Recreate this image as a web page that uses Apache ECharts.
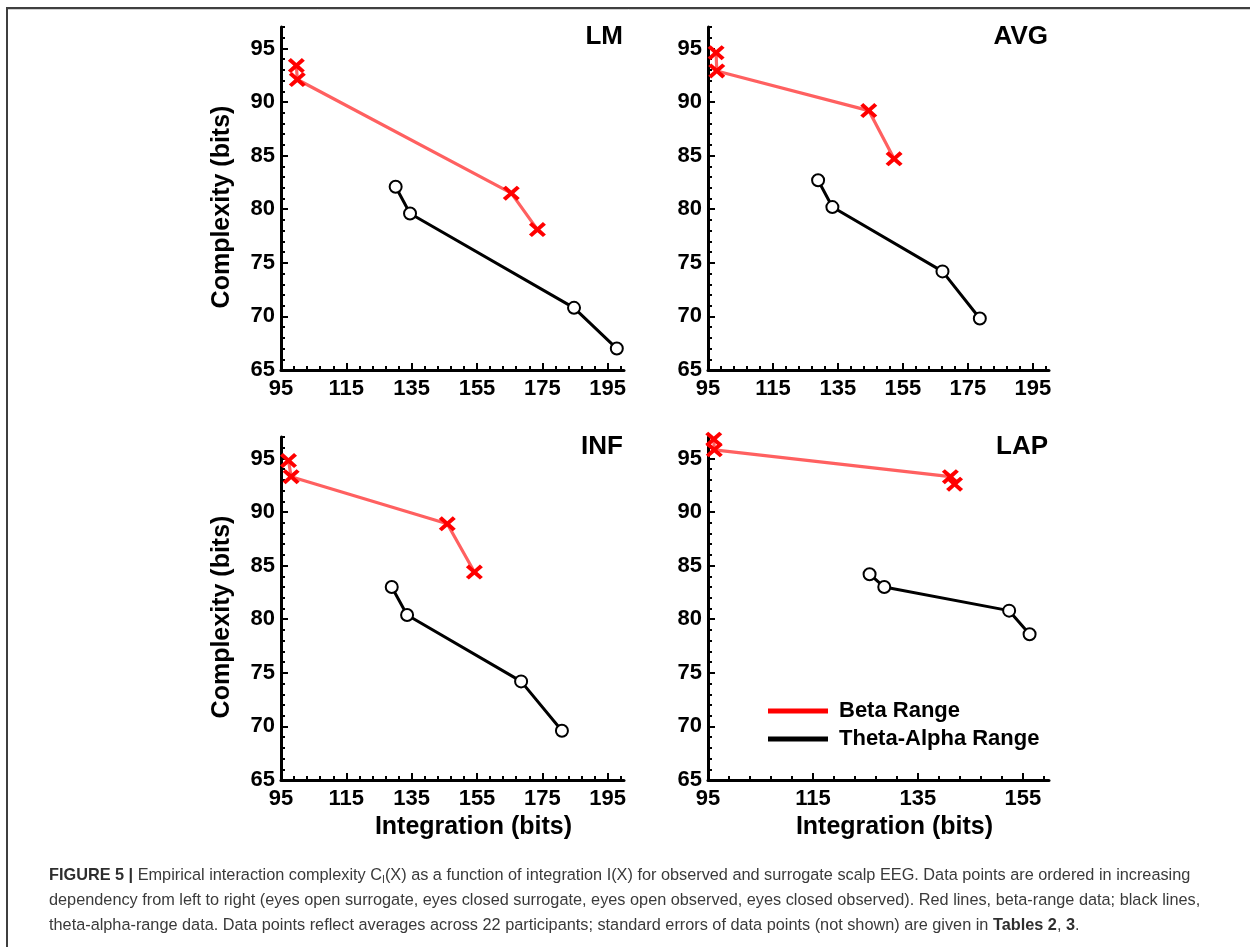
<!DOCTYPE html>
<html>
<head>
<meta charset="utf-8">
<script src="https://cdn.jsdelivr.net/npm/echarts@6/dist/echarts.min.js"></script>
<style>
  html, body { margin: 0; padding: 0; background: #fff; }
  #chart { width: 1250px; height: 947px; }
</style>
</head>
<body>
<div id="chart"></div>
<script>
// ---- Data ----
const panelNames = ['LM', 'AVG', 'INF', 'LAP'];

const lmBetaX = [99.7, 100.0, 165.5, 173.5];
const lmBetaY = [93.4, 92.1, 81.5, 78.1];
const lmThetaX = [130.1, 134.5, 184.7, 197.8];
const lmThetaY = [82.1, 79.6, 70.8, 67.0];

const avgBetaX = [97.5, 97.7, 144.5, 152.3];
const avgBetaY = [94.6, 92.9, 89.2, 84.7];
const avgThetaX = [128.9, 133.3, 167.2, 178.7];
const avgThetaY = [82.7, 80.2, 74.2, 69.8];

const infBetaX = [97.3, 98.1, 145.9, 154.2];
const infBetaY = [94.8, 93.3, 88.9, 84.4];
const infThetaX = [128.9, 133.6, 168.5, 181.0];
const infThetaY = [83.0, 80.4, 74.2, 69.6];

const lapBetaX = [96.1, 96.2, 141.2, 142.0];
const lapBetaY = [96.8, 95.8, 93.3, 92.6];
const lapThetaX = [125.8, 128.6, 152.4, 156.3];
const lapThetaY = [84.2, 83.0, 80.8, 78.6];

const yTicks = [65, 70, 75, 80, 85, 90, 95];
const xTicksWide = [95, 115, 135, 155, 175, 195];
const xTicksLap = [95, 115, 135, 155];

const seriesNames = ['Beta Range', 'Theta-Alpha Range'];
const yAxisTitle = 'Complexity (bits)';
const xAxisTitle = 'Integration (bits)';

// ---- helpers ----
function pairs(xs, ys) { return xs.map((x, i) => [x, ys[i]]); }
function minorsBetween(min, max, step, majors) {
  const out = [];
  for (let v = min; v <= max + 1e-9; v += step) {
    const r = Math.round(v * 100) / 100;
    if (majors.indexOf(r) < 0) out.push(r);
  }
  return out;
}

const FONT = 'Liberation Sans';
const X_SYMBOL = 'path://M0,3.5 L3.5,0 L10,6.5 L16.5,0 L20,3.5 L13.5,10 L20,16.5 L16.5,20 L10,13.5 L3.5,20 L0,16.5 L6.5,10 Z';

const panels = [
  { name: 'LM',  left: 281, top: 27,  width: 343, xMax: 200, xMajors: xTicksWide,
    beta: pairs(lmBetaX, lmBetaY), theta: pairs(lmThetaX, lmThetaY), yTitle: true, xTitle: false },
  { name: 'AVG', left: 708, top: 27,  width: 341, xMax: 200, xMajors: xTicksWide,
    beta: pairs(avgBetaX, avgBetaY), theta: pairs(avgThetaX, avgThetaY), yTitle: false, xTitle: false },
  { name: 'INF', left: 281, top: 437, width: 343, xMax: 200, xMajors: xTicksWide,
    beta: pairs(infBetaX, infBetaY), theta: pairs(infThetaX, infThetaY), yTitle: true, xTitle: true, xShift: 42 },
  { name: 'LAP', left: 708, top: 437, width: 341, xMax: 160, xMajors: xTicksLap,
    beta: pairs(lapBetaX, lapBetaY), theta: pairs(lapThetaX, lapThetaY), yTitle: false, xTitle: true, xShift: 32 }
];

const grids = [], xAxes = [], yAxes = [], series = [], graphics = [];
const tickLabelStyle = { color: '#000', fontFamily: FONT, fontWeight: 'bold', fontSize: 22 };
const nameStyle = { color: '#000', fontFamily: FONT, fontWeight: 'bold', fontSize: 25 };

panels.forEach((p, i) => {
  grids.push({ left: p.left, top: p.top, width: p.width, height: 343, outerBoundsMode: 'none', containLabel: false });
  const xMinors = minorsBetween(95, p.xMax, 4, p.xMajors);
  const yMinors = minorsBetween(65, 97, 1, yTicks);

  xAxes.push({
    gridIndex: i, type: 'value', position: 'bottom', min: 95, max: p.xMax,
    axisLine: { show: true, onZero: false, lineStyle: { color: '#000', width: 3 } },
    splitLine: { show: false },
    axisTick: { show: true, inside: true, length: 7, lineStyle: { color: '#000', width: 2 }, customValues: p.xMajors },
    axisLabel: Object.assign({ margin: 8, customValues: p.xMajors }, tickLabelStyle),
    name: p.xTitle ? xAxisTitle : '', nameLocation: 'middle', nameGap: 35,
    nameTextStyle: Object.assign({ padding: [0, 0, 0, p.xShift || 0] }, nameStyle)
  });
  xAxes.push({
    gridIndex: i, type: 'value', position: 'bottom', min: 95, max: p.xMax,
    axisLine: { show: false }, splitLine: { show: false }, axisLabel: { show: false },
    axisTick: { show: true, inside: true, length: 4, lineStyle: { color: '#000', width: 2 }, customValues: xMinors }
  });
  yAxes.push({
    gridIndex: i, type: 'value', position: 'left', min: 65, max: 97,
    axisLine: { show: true, onZero: false, lineStyle: { color: '#000', width: 3 } },
    splitLine: { show: false },
    axisTick: { show: true, inside: true, length: 7, lineStyle: { color: '#000', width: 2 }, customValues: yTicks },
    axisLabel: Object.assign({ margin: 6, customValues: yTicks }, tickLabelStyle),
    name: p.yTitle ? yAxisTitle : '', nameLocation: 'middle', nameGap: 46, nameRotate: 90,
    nameTextStyle: Object.assign({ padding: [0, 17, 0, 0] }, nameStyle)
  });
  yAxes.push({
    gridIndex: i, type: 'value', position: 'left', min: 65, max: 97,
    axisLine: { show: false }, splitLine: { show: false }, axisLabel: { show: false },
    axisTick: { show: true, inside: true, length: 4, lineStyle: { color: '#000', width: 2 }, customValues: yMinors }
  });

  series.push({
    name: seriesNames[0], type: 'line', xAxisIndex: 2 * i, yAxisIndex: 2 * i,
    data: p.beta, symbol: X_SYMBOL, symbolSize: [17, 15], symbolKeepAspect: false,
    itemStyle: { color: '#ff0000' },
    lineStyle: { color: '#ff4444', width: 3.2, opacity: 0.85 },
    emphasis: { disabled: true }, silent: true, z: 3
  });
  series.push({
    name: seriesNames[1], type: 'line', xAxisIndex: 2 * i, yAxisIndex: 2 * i,
    data: p.theta, symbol: 'emptyCircle', symbolSize: 12,
    itemStyle: { color: '#000', borderWidth: 3 },
    lineStyle: { color: '#000', width: 3 },
    emphasis: { disabled: true }, silent: true, z: 2
  });

  graphics.push({
    type: 'text', x: p.left + p.width - 1, y: p.top + 10, z: 10,
    style: { text: p.name, textAlign: 'right', textVerticalAlign: 'middle',
      fontFamily: FONT, fontWeight: 'bold', fontSize: 26, fill: '#000' }
  });
});

// frame
graphics.push({ type: 'line', shape: { x1: 7, y1: 8, x2: 1250, y2: 8 }, style: { stroke: '#3f3f3f', lineWidth: 2 } });
graphics.push({ type: 'line', shape: { x1: 7, y1: 9.5, x2: 1250, y2: 9.5 }, style: { stroke: '#d0d0d0', lineWidth: 1 } });
graphics.push({ type: 'line', shape: { x1: 7, y1: 7, x2: 7, y2: 947 }, style: { stroke: '#3f3f3f', lineWidth: 2 } });

// caption
const capRich = {
  b: { fontFamily: FONT, fontWeight: 'bold', fontSize: 16.3, fill: '#2e2e2e', lineHeight: 20 },
  n: { fontFamily: FONT, fontSize: 16.3, fill: '#3a3a3a', lineHeight: 20 },
  s: { fontFamily: FONT, fontSize: 10.5, fill: '#3a3a3a', lineHeight: 12, verticalAlign: 'bottom' }
};
const capLines = [
  '{b|FIGURE 5 |}{n| Empirical interaction complexity C}{s|I}{n|(X) as a function of integration I(X) for observed and surrogate scalp EEG. Data points are ordered in increasing}',
  '{n|dependency from left to right (eyes open surrogate, eyes closed surrogate, eyes open observed, eyes closed observed). Red lines, beta-range data; black lines,}',
  '{n|theta-alpha-range data. Data points reflect averages across 22 participants; standard errors of data points (not shown) are given in }{b|Tables 2}{n|, }{b|3}{n|.}'
];
capLines.forEach((t, k) => {
  graphics.push({ type: 'text', x: 49, y: 876 + 25 * k,
    style: { text: t, rich: capRich, textVerticalAlign: 'middle', textAlign: 'left' } });
});

const option = {
  backgroundColor: '#fff',
  animation: false,
  grid: grids,
  xAxis: xAxes,
  yAxis: yAxes,
  legend: {
    left: 768, top: 699, orient: 'vertical', itemWidth: 60, itemHeight: 5, itemGap: 4,
    selectedMode: false, padding: 0,
    textStyle: { color: '#000', fontFamily: FONT, fontWeight: 'bold', fontSize: 22, lineHeight: 24, padding: [0, 0, 0, 6] },
    data: [
      { name: seriesNames[0], icon: 'rect', itemStyle: { color: '#ff0000', borderWidth: 0 } },
      { name: seriesNames[1], icon: 'rect', itemStyle: { color: '#000', borderWidth: 0 } }
    ]
  },
  series: series,
  graphic: graphics
};

const chart = echarts.init(document.getElementById('chart'), null, { renderer: 'canvas' });
chart.setOption(option);
</script>
</body>
</html>
